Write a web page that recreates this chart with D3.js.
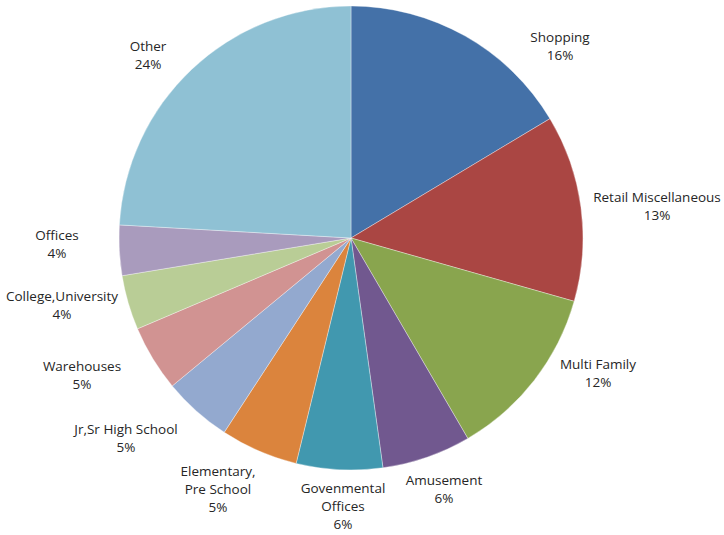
<!DOCTYPE html>
<html><head><meta charset="utf-8">
<script src="https://cdn.jsdelivr.net/npm/d3@7"></script>
<style>body{margin:0;background:#fff;}svg{display:block;}</style>
</head><body>
<svg id="chart" width="724" height="535"></svg>
<script>
const categories = ["Shopping","Retail Miscellaneous","Multi Family","Amusement","Govenmental Offices","Elementary, Pre School","Jr,Sr High School","Warehouses","College,University","Offices","Other"];
const values = [16.4,13.0,12.2,6.2,6.0,5.4,4.8,4.6,3.8,3.5,24.1];
const labelLines = [["Shopping"],["Retail Miscellaneous"],["Multi Family"],["Amusement"],["Govenmental","Offices"],["Elementary,","Pre School"],["Jr,Sr High School"],["Warehouses"],["College,University"],["Offices"],["Other"]];
const colors = ["#4471A8","#AA4643","#89A54E","#71588F","#4198AF","#DB843D","#93A9CF","#D19392","#B9CD96","#A99BBD","#8FC1D4"];

// layout
const cx = 351, cy = 238, R = 232;
const labelAnchors = [[560,37],[657,197],[598,364],[444,480],[343,488],[218,471],[126,429],[82,366],[62,296],[57,235],[148,46]];

const svg = d3.select("#chart");
const g = svg.append("g").attr("transform",`translate(${cx},${cy})`);
const total = d3.sum(values);
const pie = d3.pie().sort(null).value(d=>d)(values);
const arc = d3.arc().innerRadius(0).outerRadius(R);
g.selectAll("path").data(pie).join("path")
  .attr("d",arc).attr("fill",(d,i)=>colors[i])
  .attr("stroke","rgba(255,255,255,0.5)").attr("stroke-width",0.7);

const lab = svg.append("g").attr("font-family","'Open Sans', sans-serif").attr("font-size",13.5).attr("fill","#262626").attr("text-anchor","middle");
pie.forEach((d,i)=>{
  const lines = labelLines[i].concat([Math.round(values[i]/total*100)+"%"]);
  const t = lab.append("text").attr("x",labelAnchors[i][0]).attr("y",labelAnchors[i][1]);
  lines.forEach((l,j)=>t.append("tspan").attr("x",labelAnchors[i][0]).attr("dy",j===0?"0.35em":"18px").text(l));
});
</script>
</body></html>
